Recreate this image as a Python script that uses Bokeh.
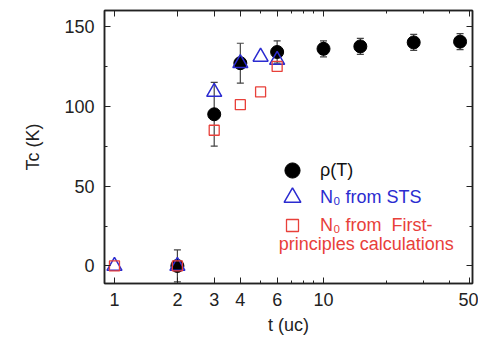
from bokeh.plotting import figure
from bokeh.models import (FixedTicker, LogAxis, LinearAxis, Range1d, Whisker,
                          ColumnDataSource, Legend, LegendItem, Label, TeeHead,
                          PrintfTickFormatter)
from bokeh.embed import file_html
from bokeh.resources import INLINE

# rho(T) data
rho_t = [2, 3, 4, 6, 10, 15, 27, 45]
rho_tc = [0, 95, 127, 134, 136, 137.5, 140, 140.5]
rho_err = [10, 20, 12.5, 7, 5, 5, 5, 5]

# N0 from STS
sts_t = [1, 2, 3, 4, 5, 6]
sts_tc = [0, 0, 109, 127, 131, 129]

# N0 from first-principles calculations
fp_t = [1, 2, 3, 4, 5, 6]
fp_tc = [0, 0, 85, 101, 109, 125]

x_ticks = [1, 2, 3, 4, 6, 10, 50]
x_minor = [5, 7, 8, 9, 20, 30, 40]
y_ticks = [0, 50, 100, 150]
y_minor = [25, 75, 125]

FONT = "Liberation Sans"
BLUE = "#2b2bd0"
RED = "#e8403a"

p = figure(width=478, height=343, x_axis_type="log",
           x_range=Range1d(0.896, 51.6), y_range=Range1d(-11, 160),
           output_backend="svg", toolbar_location=None,
           min_border_left=104, min_border_right=6, min_border_top=10,
           min_border_bottom=60)
p.xgrid.visible = False
p.ygrid.visible = False
p.outline_line_color = "#222222"
p.outline_line_width = 1.5

# mirrored axes (ticks only)
top = LogAxis()
right = LinearAxis()
p.add_layout(top, "above")
p.add_layout(right, "right")

for ax in p.xaxis:
    ax.ticker = FixedTicker(ticks=x_ticks, minor_ticks=x_minor)
for ax in p.yaxis:
    ax.ticker = FixedTicker(ticks=y_ticks, minor_ticks=y_minor)

for ax in list(p.xaxis) + list(p.yaxis):
    ax.axis_line_color = "#222222"
    ax.axis_line_width = 1.5
    ax.major_tick_in = 6
    ax.major_tick_out = 0
    ax.minor_tick_in = 3
    ax.minor_tick_out = 0
    ax.major_tick_line_color = "#222222"
    ax.minor_tick_line_color = "#222222"
    ax.major_label_text_font = FONT
    ax.major_label_text_font_size = "18px"
    ax.major_label_text_color = "#222222"
    ax.axis_label_text_font = FONT
    ax.axis_label_text_font_style = "normal"
    ax.axis_label_text_color = "#222222"
    ax.formatter = PrintfTickFormatter(format="%d")

for ax in (top, right):
    ax.major_label_text_color = None
    ax.major_label_standoff = 0

bottom_ax = p.below[0]
left_ax = p.left[0]
bottom_ax.axis_label = "t (uc)"
bottom_ax.axis_label_text_font_size = "18px"
bottom_ax.major_label_standoff = 9
bottom_ax.axis_label_standoff = 6
left_ax.axis_label = "Tc (K)"
left_ax.axis_label_text_font_size = "18px"
left_ax.major_label_standoff = 10
left_ax.axis_label_standoff = 18

# error bars
src = ColumnDataSource(dict(t=rho_t, tc=rho_tc,
                            up=[v + e for v, e in zip(rho_tc, rho_err)],
                            lo=[v - e for v, e in zip(rho_tc, rho_err)]))
wh = Whisker(source=src, base="t", upper="up", lower="lo",
             line_color="#444444", line_width=1.2, level="underlay",
             upper_head=TeeHead(size=7, line_color="#444444", line_width=1.2),
             lower_head=TeeHead(size=7, line_color="#444444", line_width=1.2))
p.add_layout(wh)

r_rho = p.scatter("t", "tc", source=src, marker="circle", size=13,
                  fill_color="black", line_color="black")
r_sts = p.scatter(sts_t, sts_tc, marker="triangle", size=15,
                  fill_color=None, line_color=BLUE, line_width=1.5)
r_fp = p.scatter(fp_t, fp_tc, marker="square", size=10,
                 fill_color=None, line_color=RED, line_width=1.3)

def make_legend(label, rend, color, loc, box, standoff):
    lg = Legend(items=[LegendItem(label=label, renderers=[rend])], location=loc,
                padding=0, margin=0, spacing=0, border_line_color=None,
                background_fill_alpha=0, glyph_width=box, glyph_height=box,
                label_standoff=standoff, label_text_font=FONT,
                label_text_font_size="18px", label_text_color=color,
                label_height=box)
    p.add_layout(lg)

make_legend("ρ(T)", r_rho, "#111111", (169, 94), 38, 9)
make_legend("N₀ from STS", r_sts, BLUE, (167, 65), 42, 7)
make_legend("N₀ from  First-", r_fp, RED, (173, 43), 30, 13)

p.add_layout(Label(x=6.1, y=13.75, text="principles calculations",
                   text_color=RED, text_font=FONT, text_font_size="18px",
                   text_baseline="middle"))

open("out.html", "w").write(file_html(p, INLINE))
